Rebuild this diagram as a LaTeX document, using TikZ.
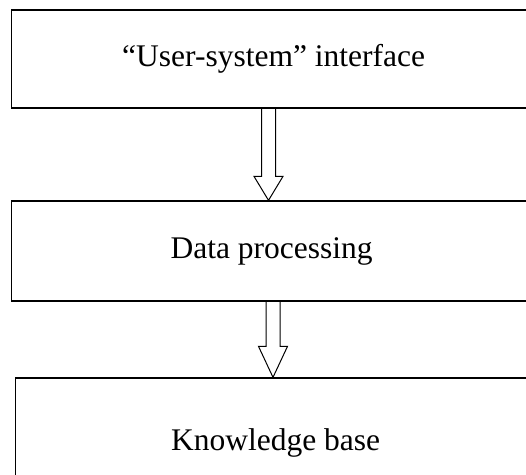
\documentclass[tikz,border=0pt]{standalone}
\usepackage{fontspec}
\setmainfont{Liberation Serif}
\usetikzlibrary{calc}

% hollow block arrow between two boxes: from, to, x of axis, head length
\newcommand{\blockarrow}[4]{%
    \draw[blockline] let \p1=(#1.south), \p2=(#2.north) in
        (#3-7,\y1) -- (#3-7,\y2+#4pt) -- (#3-14.5,\y2+#4pt) -- (#3,\y2)
        -- (#3+14.5,\y2+#4pt) -- (#3+7,\y2+#4pt) -- (#3+7,\y1);
}
% box text centred over the given width, box itself runs on past the page
\newcommand{\stagetext}[2]{\makebox[#1]{#2}\hspace*{\dimexpr620pt-#1\relax}}

\begin{document}
\begin{tikzpicture}[x=1pt, y=1pt,
    stagebox/.style={draw, line width=1.3pt, rectangle, inner sep=0pt, anchor=west,
        minimum width=620pt, font=\fontsize{31.5}{36}\selectfont},
    blockline/.style={line width=1pt, line join=miter}]
    \useasboundingbox (0,0) rectangle (526,474);
    \clip (0,0) rectangle (526,474);

    % Boxes (run off the right and bottom edges)
    \node[stagebox, minimum height=98pt] (ui) at (11,415) {\stagetext{524pt}{\raisebox{3pt}{``User-system'' interface}}};
    \node[stagebox, minimum height=100pt] (proc) at (11,223) {\stagetext{520pt}{Data processing}};
    \node[stagebox, minimum height=130pt] (kb) at (15,31) {\stagetext{520pt}{Knowledge base}};

    % Arrows
    \blockarrow{ui}{proc}{268.5}{24}
    \blockarrow{proc}{kb}{273}{31}
\end{tikzpicture}
\end{document}
